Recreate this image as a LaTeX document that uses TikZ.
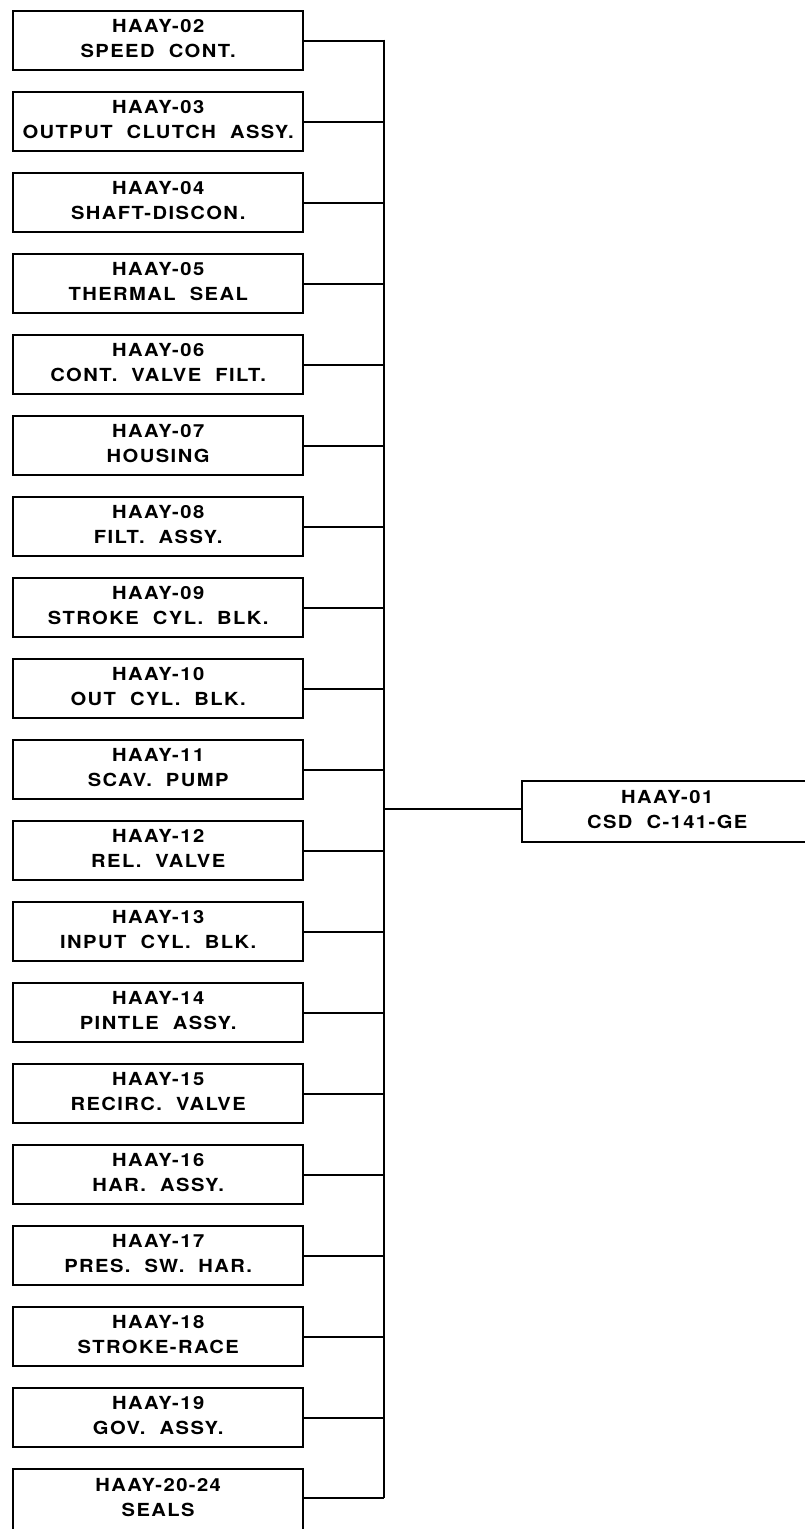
\documentclass[tikz,border=0pt]{standalone}
\usepackage{fontspec}
\setmainfont{TeX Gyre Heros}[LetterSpace=8, WordSpace=2, FakeStretch=1.12]
\begin{document}
\begin{tikzpicture}[x=1pt,y=-1pt,
  box/.style={draw, line width=2.4pt, rectangle, minimum width=290pt, minimum height=59pt,
    inner sep=0pt, align=center, anchor=north west, text depth=4pt,
    font=\fontsize{18}{25}\selectfont\bfseries},
  wire/.style={line width=2.2pt}]
\useasboundingbox (0,0) rectangle (804,1529);
\coordinate (top) at (384,39.5);
\foreach \i/\a/\b in {0/02/SPEED CONT.,1/03/OUTPUT CLUTCH ASSY.,2/04/SHAFT-DISCON.,3/05/THERMAL SEAL,
  4/06/CONT. VALVE FILT.,5/07/HOUSING,6/08/FILT. ASSY.,7/09/STROKE CYL. BLK.,8/10/OUT CYL. BLK.,
  9/11/SCAV. PUMP,10/12/REL. VALVE,11/13/INPUT CYL. BLK.,12/14/PINTLE ASSY.,13/15/RECIRC. VALVE,
  14/16/HAR. ASSY.,15/17/PRES. SW. HAR.,16/18/STROKE-RACE,17/19/GOV. ASSY.}{
  \node[box] (b\a) at (12,{10+81*\i}) {HAAY-\a\\\b};
  \draw[wire] (b\a.east) -- (b\a.east -| top);
}
\node[box, minimum height=68pt, text depth=12pt] (b20) at (12,1468) {HAAY-20-24\\SEALS};
\coordinate (c20) at (384,1498);
\draw[wire] (b20.east |- c20) -- (c20);
\draw[wire] (top) -- (c20);
\node[box, minimum width=290pt, minimum height=61pt] (root) at (521,780) {HAAY-01\\CSD C-141-GE};
\coordinate (j) at (384,809);
\draw[wire] (j) -- (root.west |- j);
\end{tikzpicture}
\end{document}
